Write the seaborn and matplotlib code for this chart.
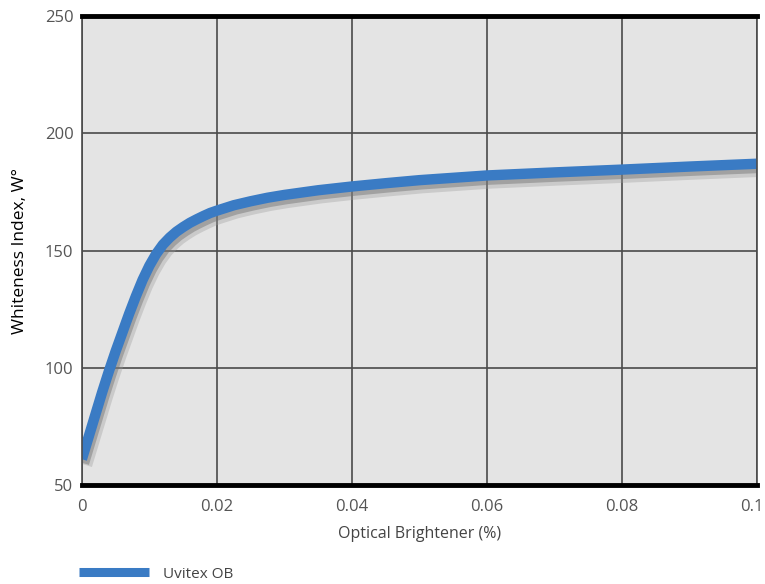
import numpy as np
import pandas as pd
import seaborn as sns
import matplotlib.pyplot as plt
import matplotlib.patheffects as pe
import matplotlib.transforms as mtransforms

# Whiteness index vs optical brightener concentration
brightener = [0, 0.001, 0.002, 0.003, 0.004, 0.005, 0.006, 0.007, 0.008, 0.009,
              0.010, 0.011, 0.012, 0.013, 0.014, 0.015, 0.016, 0.017, 0.018, 0.019,
              0.020, 0.0225, 0.025, 0.0275, 0.030, 0.035, 0.040, 0.045, 0.050,
              0.060, 0.070, 0.080, 0.090, 0.100]
whiteness = [61, 70.5, 80, 89.5, 98.5, 107, 115, 123, 130.5, 137.5,
             143.5, 148.5, 152.5, 155.5, 158, 160, 161.8, 163.3, 164.7, 166,
             167, 169.3, 171, 172.5, 173.7, 175.7, 177.3, 178.7, 180,
             182, 183.3, 184.5, 185.8, 187]
series = 'Uvitex OB'

xticks = [0, 0.02, 0.04, 0.06, 0.08, 0.1]
xticklabels = ['0', '0.02', '0.04', '0.06', '0.08', '0.1']
yticks = [50, 100, 150, 200, 250]

df = pd.DataFrame({'x': brightener, 'y': whiteness, 'series': series})

sns.set_style('white')
plt.rcParams['font.family'] = ['Open Sans', 'DejaVu Sans']

fig = plt.figure(figsize=(7.65, 5.84), dpi=100)
ax = fig.add_axes([0.107, 0.1695, 0.8825, 0.8031])
ax.set_facecolor('#e4e4e4')

shadow = [pe.SimpleLineShadow(offset=(2, -4), shadow_color='#9a9a9a', alpha=0.35, linewidth=11),
          pe.SimpleLineShadow(offset=(1.5, -3), shadow_color='#707070', alpha=0.45),
          pe.Normal()]
sns.lineplot(data=df, x='x', y='y', hue='series', palette=['#3a7bc4'],
             linewidth=7.5, ax=ax, legend=False, solid_capstyle='butt',
             solid_joinstyle='round', path_effects=shadow)

ax.set_xlim(0, 0.1)
ax.set_ylim(50, 250)
ax.set_xticks(xticks)
ax.set_xticklabels(xticklabels)
ax.set_yticks(yticks)
ax.grid(True, color='#4a4a4a', linewidth=1.2)
ax.set_axisbelow(True)
ax.tick_params(axis='both', length=0, labelsize=12, labelcolor='#555555')
ax.tick_params(axis='x', pad=10)
ax.tick_params(axis='y', pad=6)

# keep the last x label inside the figure
last = ax.get_xticklabels()[-1]
last.set_horizontalalignment('right')
last.set_transform(last.get_transform() + mtransforms.ScaledTranslation(0.07, 0, fig.dpi_scale_trans))

for side in ['top', 'bottom']:
    ax.spines[side].set_color('black')
    ax.spines[side].set_linewidth(3.5)
for side in ['left', 'right']:
    ax.spines[side].set_color('#4a4a4a')
    ax.spines[side].set_linewidth(1.2)

ax.set_xlabel('Optical Brightener (%)', fontsize=11.5, color='#444444', labelpad=8)
ax.set_ylabel('Whiteness Index, W°', fontsize=12.5, color='black', labelpad=12)

handle = plt.Line2D([], [], color='#3a7bc4', linewidth=6.5, solid_capstyle='butt')
fig.legend([handle], [series], loc='center left', bbox_to_anchor=(0.095, 0.017),
           frameon=False, handlelength=4.6, fontsize=11, labelcolor='#444444',
           borderaxespad=0, handletextpad=0.9)

fig.savefig('out.png', dpi=100)
